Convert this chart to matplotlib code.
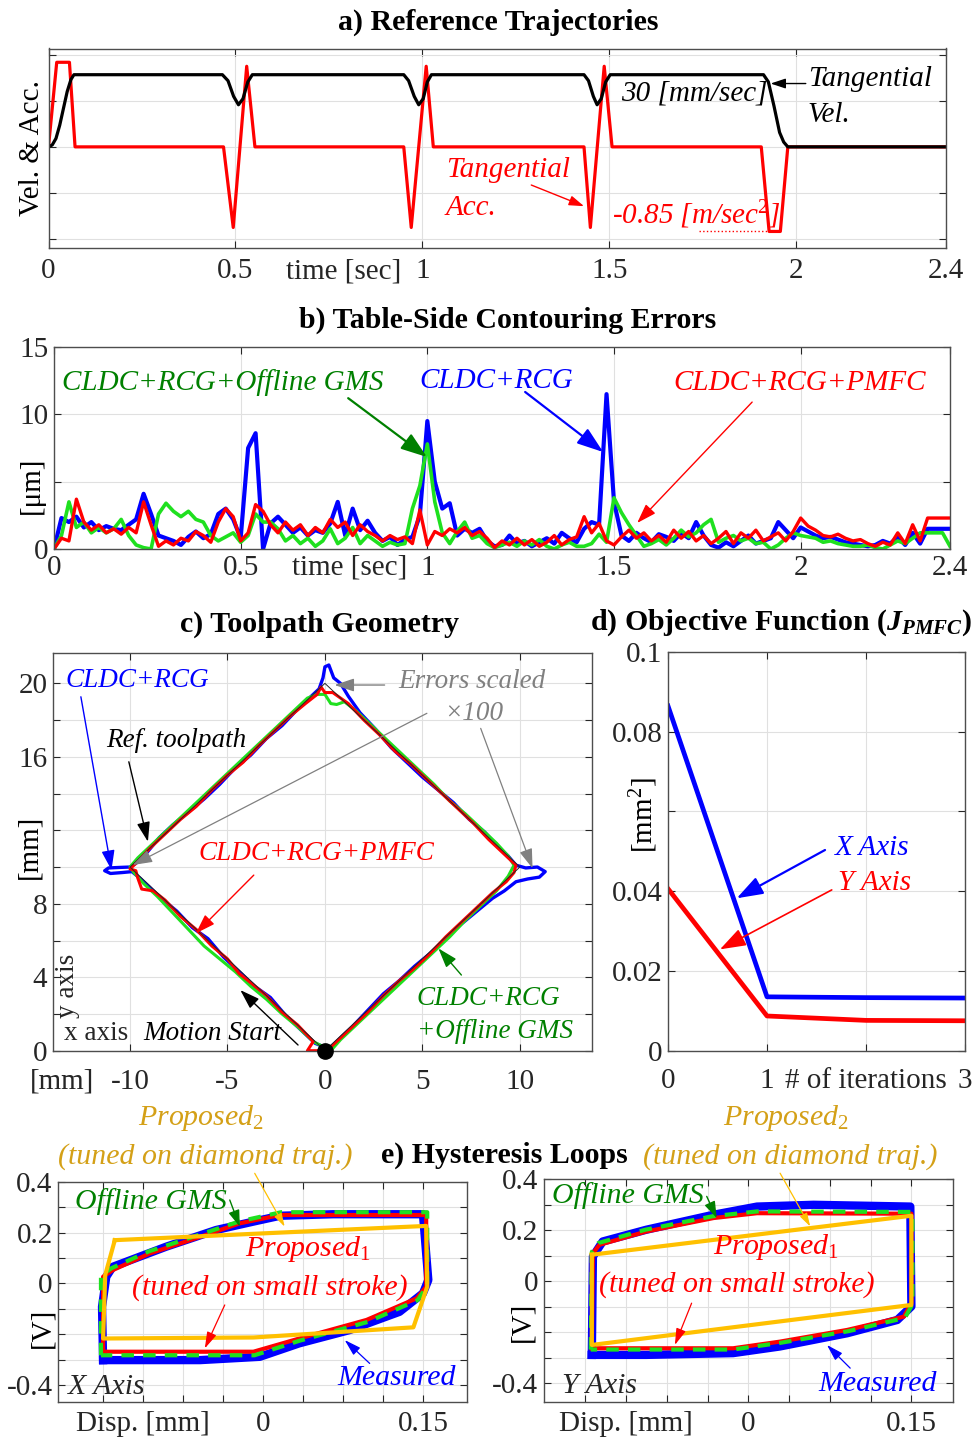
#!/usr/bin/env python
# Summary figure for the diamond contouring test: reference trajectories,
# table-side contouring errors, toolpath geometry, PMFC objective and hysteresis loops.

import numpy as np
import matplotlib
matplotlib.use('Agg')
from matplotlib import pyplot as plt
from matplotlib import rc

rc('font', family='Liberation Serif', size=21)
rc('mathtext', fontset='custom', rm='Liberation Serif', it='Liberation Serif:italic',
   bf='Liberation Serif:bold', bfit='Liberation Serif:italic:bold')

# ---------------- data ----------------
# a) reference trajectories (velocity in mm/s, acceleration in m/s^2)
t_vel = [0, 0.01, 0.02, 0.03, 0.04, 0.05, 0.06, 0.068,
         0.465, 0.48, 0.495, 0.508, 0.52, 0.533, 0.545,
         0.95, 0.963, 0.978, 0.99, 1.002, 1.013, 1.024,
         1.432, 1.444, 1.457, 1.467, 1.478, 1.49, 1.502,
         1.912, 1.925, 1.94, 1.955, 1.966, 1.977, 2.4]
vel = [0, 0.8, 3.5, 9, 16, 23, 28, 30,
       30, 27.5, 21, 17.5, 20, 27, 30,
       30, 27.5, 21, 17.5, 20, 27, 30,
       30, 27.5, 21, 17.5, 20, 27, 30,
       30, 27, 17, 6, 2, 0, 0]
t_acc = [0, 0.022, 0.056, 0.071, 0.468, 0.494, 0.530, 0.552,
         0.950, 0.970, 1.010, 1.029, 1.432, 1.449, 1.486, 1.507,
         1.906, 1.927, 1.957, 1.977, 2.4]
acc = [0, 0.85, 0.85, 0, 0, -0.81, 0.81, 0,
       0, -0.81, 0.81, 0, 0, -0.81, 0.81, 0,
       0, -0.85, -0.85, 0, 0]

# b) contouring errors [um], sampled every 20 ms
t_err = np.round(np.arange(121) * 0.02, 2)
err_rcg = [0, 2.3, 2.0, 2.4, 1.6, 2.0, 1.4, 1.7, 1.5, 1.4,
           1.8, 2.2, 4.1, 2.6, 1.0, 0.8, 0.6, 0.3, 0.9, 1.3,
           0.8, 1.1, 2.6, 3.0, 2.2, 0.8, 7.5, 8.6, 0.0, 1.9,
           2.4, 1.8, 1.2, 1.6, 1.0, 1.4, 1.2, 1.9, 3.5, 1.0,
           3.0, 1.4, 2.1, 1.2, 0.6, 0.9, 0.3, 0.7, 0.9, 2.5,
           9.5, 5.0, 3.0, 3.4, 1.0, 1.5, 1.2, 1.5, 0.6, 0.2,
           0.3, 1.0, 0.4, 0.6, 0.2, 0.5, 0.8, 0.4, 1.2, 0.8,
           0.5, 1.5, 2.0, 1.8, 11.5, 3.5, 1.0, 0.6, 1.2, 0.8,
           0.5, 1.1, 0.9, 0.6, 1.2, 0.8, 2.0, 1.0, 0.3, 0.1,
           0.5, 0.2, 0.6, 1.0, 0.4, 0.6, 0.8, 2.0, 1.4, 0.8,
           1.6, 1.3, 1.0, 0.8, 0.9, 0.7, 0.5, 0.4, 0.3, 0.2,
           0.3, 0.6, 0.4, 0.9, 0.3, 1.2, 0.4, 1.5, 1.5, 1.5,
           1.5]
err_gms = [0, 1.0, 3.5, 1.6, 2.0, 1.2, 1.6, 1.2, 1.5, 2.2,
           1.0, 0.3, 0.1, 0.0, 2.6, 3.4, 2.8, 2.4, 2.8, 2.2,
           2.0, 1.0, 0.6, 0.9, 1.2, 0.5, 1.0, 2.6, 2.0, 2.0,
           1.5, 0.6, 1.0, 0.4, 0.8, 0.2, 0.6, 1.5, 0.4, 0.8,
           1.6, 0.4, 1.0, 0.6, 0.2, 0.5, 0.3, 0.4, 3.0, 4.7,
           7.8, 3.5, 1.2, 0.4, 1.3, 2.0, 0.8, 1.0, 0.4, 0.1,
           0.3, 0.5, 0.2, 0.6, 0.3, 0.7, 0.2, 0.0, 0.3, 0.5,
           0.2, 0.2, 0.4, 1.1, 0.5, 3.8, 2.7, 1.8, 1.0, 0.2,
           0.4, 0.7, 0.3, 0.8, 1.4, 0.9, 1.2, 1.8, 2.2, 0.5,
           0.8, 1.0, 0.6, 0.8, 0.4, 0.5, 0.0, 0.3, 0.8, 1.2,
           1.0, 0.9, 0.8, 0.5, 0.6, 0.4, 0.3, 0.2, 0.2, 0.3,
           0.1, 0.0, 0.3, 0.6, 0.4, 0.8, 1.2, 1.2, 1.2, 1.2,
           0.2]
err_pmfc = [0, 0.8, 0.6, 3.7, 2.0, 1.4, 1.8, 1.2, 1.5, 1.1,
            1.6, 1.2, 3.5, 1.8, 0.2, 0.6, 0.3, 0.8, 0.6, 1.3,
            1.0, 0.5, 2.0, 3.0, 2.4, 0.6, 1.2, 3.3, 2.8, 1.8,
            1.2, 2.0, 1.4, 1.8, 1.0, 1.6, 1.2, 2.2, 1.6, 2.0,
            1.0, 1.8, 1.3, 1.0, 0.6, 1.0, 0.7, 0.9, 0.4, 2.9,
            0.3, 1.3, 1.0, 1.5, 1.2, 1.6, 1.0, 1.3, 0.8, 0.1,
            0.6, 0.3, 0.8, 0.3, 0.7, 0.2, 0.5, 1.0, 0.3, 0.7,
            0.9, 2.4, 1.2, 1.9, 0.6, 0.3, 0.9, 1.4, 0.8, 1.2,
            0.6, 1.0, 0.5, 1.4, 0.8, 1.3, 0.6, 1.0, 0.4, 0.8,
            1.3, 0.4, 1.2, 0.8, 1.4, 0.6, 0.9, 1.2, 0.6, 1.3,
            2.3, 1.7, 1.4, 1.0, 0.9, 1.1, 0.8, 0.6, 0.7, 0.4,
            0.2, 0.5, 0.3, 1.2, 0.4, 1.8, 0.6, 2.3, 2.3, 2.3,
            2.3]

# c) toolpath [mm], errors scaled x100
ref_x = [0, -10, 0, 10, 0]
ref_y = [0, 10, 20, 10, 0]
path_rcg_x = [0.2, -0.5, -1.2, -2.0, -2.8, -3.6, -4.4, -5.2, -6.0, -6.8, -7.6, -8.4, -9.0, -9.5, -9.9,
              -10.4, -11.0, -11.3, -11.1, -10.5, -10.0, -9.7,
              -9.2, -8.5, -7.8, -7.0, -6.2, -5.4, -4.6, -3.8, -3.0, -2.2, -1.4, -0.8, -0.3,
              -0.1, 0.0, 0.2, 0.45, 0.8, 1.2,
              1.8, 2.6, 3.4, 4.2, 5.0, 5.8, 6.6, 7.4, 8.2, 8.8, 9.4, 9.8,
              10.3, 10.9, 11.3, 11.0, 10.4, 9.8,
              9.2, 8.6, 7.8, 7.0, 6.2, 5.4, 4.6, 3.8, 3.0, 2.2, 1.4, 0.6, 0.1]
path_rcg_y = [0.1, 0.4, 1.1, 1.9, 2.9, 3.5, 4.3, 5.1, 6.1, 6.7, 7.6, 8.3, 8.9, 9.4, 9.75,
              9.7, 9.65, 9.8, 9.95, 9.98, 10.0, 10.2,
              10.7, 11.6, 12.3, 13.0, 13.7, 14.5, 15.4, 16.1, 17.0, 17.7, 18.6, 19.2, 19.7,
              20.3, 20.9, 21.0, 20.3, 20.0, 19.3,
              18.4, 17.5, 16.5, 15.7, 14.9, 14.2, 13.5, 12.6, 11.9, 11.2, 10.6, 10.1,
              9.95, 10.0, 9.75, 9.45, 9.35, 9.2,
              8.7, 8.3, 7.6, 6.9, 6.1, 5.3, 4.6, 3.8, 3.1, 2.2, 1.3, 0.5, 0.0]
path_gms_x = [0.3, -0.6, -1.4, -2.2, -3.0, -3.8, -4.6, -5.4, -6.2, -7.0, -7.8, -8.6, -9.3, -9.8, -10.0,
              -9.6, -8.8, -8.0, -7.2, -6.4, -5.6, -4.8, -4.0, -3.2, -2.4, -1.6, -0.9, -0.4,
              0.0, 0.3, 0.6, 1.0, 1.6, 2.4, 3.2, 4.0, 4.8, 5.6, 6.4, 7.2, 8.0, 8.8, 9.4, 9.7,
              9.4, 8.8, 8.0, 7.2, 6.4, 5.6, 4.8, 4.0, 3.2, 2.4, 1.6, 0.8, 0.3]
path_gms_y = [0.0, 0.5, 1.3, 2.0, 2.8, 3.5, 4.3, 5.0, 5.7, 6.6, 7.5, 8.4, 9.1, 9.7, 10.0,
              10.5, 11.3, 12.1, 12.9, 13.7, 14.5, 15.3, 16.1, 16.9, 17.7, 18.5, 19.2, 19.4,
              19.4, 18.9, 18.85, 19.0, 18.5, 17.7, 16.9, 16.1, 15.3, 14.5, 13.6, 12.9, 12.1, 11.3, 10.6, 10.1,
              9.5, 8.7, 7.9, 7.1, 6.2, 5.4, 4.6, 3.8, 3.0, 2.2, 1.4, 0.6, 0.0]
path_pmfc_x = [-0.2, -0.9, -0.6, -1.4, -2.2, -3.0, -3.8, -4.4, -5.0, -5.8, -6.6, -7.4, -8.2, -8.8, -9.4, -9.6,
               -9.7, -10.0, -9.6, -9.0, -8.2, -7.4, -6.6, -5.8, -5.0, -4.2, -3.4, -2.6, -1.8, -1.0, -0.4,
               -0.2, 0.0, 0.4, 1.2, 2.0, 2.8, 3.6, 4.4, 5.2, 6.0, 6.8, 7.6, 8.4, 9.0, 9.4, 9.8,
               9.7, 9.3, 8.6, 7.8, 7.0, 6.2, 5.4, 4.6, 3.8, 3.0, 2.2, 1.4, 0.6, 0.1, -0.2]
path_pmfc_y = [0.0, 0.0, 0.5, 1.4, 2.1, 3.0, 3.7, 4.2, 5.0, 5.7, 6.6, 7.3, 8.2, 8.7, 8.8, 9.4,
               9.8, 9.9, 10.3, 11.0, 11.8, 12.6, 13.3, 14.2, 15.0, 15.7, 16.6, 17.4, 18.2, 18.9, 19.4,
               19.8, 19.5, 19.5, 18.9, 18.0, 17.2, 16.3, 15.6, 14.8, 14.0, 13.2, 12.4, 11.5, 10.9, 10.5, 10.1,
               9.7, 9.2, 8.6, 7.8, 7.0, 6.2, 5.3, 4.5, 3.8, 3.0, 2.1, 1.3, 0.5, 0.0, 0.0]

# d) PMFC objective function [mm^2]
iterations = [0, 1, 2, 3]
J_x = [0.0864, 0.0135, 0.0133, 0.0132]
J_y = [0.0406, 0.0087, 0.0076, 0.0075]

# e) hysteresis loops, displacement [mm] vs. voltage [V]
hx_meas_d = [-0.150, -0.151, -0.147, -0.141, -0.091, -0.044, -0.009, 0.016, 0.066, 0.150,
             0.155, 0.150, 0.128, 0.081, 0.034, -0.003, -0.059, -0.150]
hx_meas_v = [-0.302, -0.092, 0.026, 0.065, 0.144, 0.210, 0.243, 0.266, 0.272, 0.272,
             0.013, -0.039, -0.112, -0.184, -0.236, -0.289, -0.302, -0.302]
hx_p1_d = [-0.150, -0.150, -0.141, -0.106, -0.059, -0.022, 0.016, 0.153, 0.153, 0.144,
           0.097, 0.034, -0.009, -0.150]
hx_p1_v = [-0.269, 0.026, 0.052, 0.118, 0.183, 0.236, 0.269, 0.269, -0.013, -0.059,
           -0.144, -0.217, -0.269, -0.269]
hx_gms_d = [-0.152, -0.152, -0.142, -0.107, -0.060, -0.022, 0.017, 0.154, 0.154, 0.145,
            0.098, 0.034, -0.008, -0.152]
hx_gms_v = [-0.283, 0.030, 0.060, 0.126, 0.191, 0.244, 0.280, 0.280, -0.010, -0.066,
            -0.152, -0.226, -0.283, -0.283]
hx_p2_d = [-0.139, 0.153, 0.154, 0.141, -0.009, -0.150, -0.148, -0.139]
hx_p2_v = [0.170, 0.226, -0.013, -0.173, -0.213, -0.217, 0.033, 0.170]

hy_meas_d = [-0.144, -0.143, -0.134, -0.094, -0.032, 0.008, 0.060, 0.149, 0.150, 0.137,
             0.091, 0.029, -0.014, -0.094, -0.144]
hy_meas_v = [-0.289, 0.097, 0.156, 0.202, 0.261, 0.293, 0.300, 0.293, -0.099, -0.152,
             -0.204, -0.256, -0.282, -0.289, -0.289]
hy_p1_d = [-0.144, -0.143, -0.137, -0.094, -0.032, 0.008, 0.150, 0.150, 0.143, 0.091,
           0.029, -0.014, -0.144]
hy_p1_v = [-0.263, 0.110, 0.143, 0.195, 0.248, 0.267, 0.265, -0.086, -0.139, -0.191,
           -0.237, -0.263, -0.263]
hy_gms_d = [-0.145, -0.144, -0.138, -0.095, -0.033, 0.008, 0.151, 0.151, 0.144, 0.092,
            0.029, -0.014, -0.145]
hy_gms_v = [-0.268, 0.115, 0.150, 0.202, 0.255, 0.274, 0.272, -0.090, -0.144, -0.196,
            -0.242, -0.268, -0.268]
hy_p2_d = [-0.144, 0.150, 0.150, -0.144, -0.144]
hy_p2_v = [0.104, 0.257, -0.093, -0.250, 0.104]

# ---------------- styling helpers ----------------
LIME = (0.12, 0.88, 0.12)
DKGREEN = (0.0, 0.5, 0.0)
GOLD_TXT = '#D4A017'
GOLD = '#FFC000'
W, H = 974.0, 1439.0

fig = plt.figure(figsize=(W / 100, H / 100), dpi=100)


def box(left, top, right, bottom, xpad=4):
    ax = fig.add_axes([left / W, 1 - bottom / H, (right - left) / W, (bottom - top) / H])
    ax.tick_params(direction='in', top=True, right=True, length=5, width=0.8,
                   colors='0.15', labelsize=21, pad=4)
    ax.tick_params(axis='x', pad=xpad)
    for s in ax.spines.values():
        s.set_color('0.3')
        s.set_linewidth(1.0)
    ax.grid(True, color='0.88', lw=0.8)
    ax.set_axisbelow(True)
    return ax


def heading(x, y, s):
    fig.text(x / W, 1 - y / H, s, ha='center', va='center', fontsize=21.5, fontweight='bold')


def arrow(ax, tail, head, color, lw=1.0, hl=0.5, hw=0.17):
    ax.annotate('', xy=head, xytext=tail,
                arrowprops=dict(arrowstyle='-|>,head_length=%g,head_width=%g' % (hl, hw),
                                color=color, lw=lw, shrinkA=0, shrinkB=0, mutation_scale=20))


def note(ax, x, y, s, color='k', size=21, **kw):
    ax.text(x, y, s, color=color, fontsize=size, style='italic', ha='left', va='center', **kw)


def under_axis(ax, x, s, pad=4):
    ax.annotate(s, xy=(x, 0), xycoords=('data', 'axes fraction'), xytext=(0, -pad),
                textcoords='offset points', ha='center', va='top', fontsize=21, color='0.15')


# ---------------- a) reference trajectories ----------------
VEL_SCALE = 1.57 / 30.0
ACC_SCALE = 1.84 / 0.85
heading(498, 22, 'a) Reference Trajectories')
ax = box(48.5, 48.5, 946, 248, xpad=7.5)
ax.plot(t_acc, np.array(acc) * ACC_SCALE, color='r', lw=2.3)
ax.plot(t_vel, np.array(vel) * VEL_SCALE, color='k', lw=2.3)
ax.plot([1.74, 1.93], [min(acc) * ACC_SCALE] * 2, color='r', lw=1, ls=':')
ax.set_xlim(0, 2.4)
ax.set_ylim(-2.2, 2.14)
ax.set_xticks([0, 0.5, 1, 1.5, 2, 2.4])
ax.set_xticklabels(['0', '0.5', '1', '1.5', '2', '2.4'])
ax.set_yticks([-2, -1, 0, 1, 2])
ax.set_yticklabels([])
ax.set_ylabel('Vel. & Acc.', fontsize=21)
ax.yaxis.set_label_coords(-0.004, 0.5)
under_axis(ax, 0.79, 'time [sec]', pad=7.5)
note(ax, 1.53, 1.165, '30 [mm/sec]')
note(ax, 2.03, 1.485, 'Tangential')
note(ax, 2.03, 0.70, 'Vel.')
arrow(ax, (2.025, 1.378), (1.931, 1.378), 'k', lw=1.0, hl=0.45, hw=0.15)
note(ax, 1.063, -0.51, 'Tangential', color='r')
note(ax, 1.063, -1.33, 'Acc.', color='r')
arrow(ax, (1.291, -0.83), (1.432, -1.29), 'r', lw=1.0, hl=0.45, hw=0.15)
note(ax, 1.507, -1.47, r'-0.85 [m/sec$^{\mathit{2}}$]', color='r')

# ---------------- b) contouring errors ----------------
heading(508, 320, 'b) Table-Side Contouring Errors')
ax = box(54, 347, 950, 549)
ax.plot(t_err, err_rcg, color='b', lw=3.0)
ax.plot(t_err, err_gms, color=LIME, lw=2.6)
ax.plot(t_err, err_pmfc, color='r', lw=2.4)
ax.set_xlim(0, 2.4)
ax.set_ylim(0, 15)
ax.set_xticks([0, 0.5, 1, 1.5, 2, 2.4])
ax.set_xticklabels(['0', '0.5', '1', '1.5', '2', '2.4'])
ax.set_yticks([0, 5, 10, 15])
ax.set_yticklabels(['0', '', '10', '15'])
ax.set_ylabel('[\u03bcm]', fontsize=21)
ax.yaxis.set_label_coords(-0.01, 0.317)
under_axis(ax, 0.793, 'time [sec]')
note(ax, 0.021, 12.4, 'CLDC+RCG+Offline GMS', color=DKGREEN)
note(ax, 0.98, 12.47, 'CLDC+RCG', color='b')
note(ax, 1.658, 12.3, 'CLDC+RCG+PMFC', color='r')
arrow(ax, (0.788, 11.2), (0.999, 6.83), DKGREEN, lw=1.6, hl=0.8, hw=0.28)
arrow(ax, (1.262, 11.66), (1.471, 7.2), 'b', lw=1.6, hl=0.8, hw=0.28)
arrow(ax, (1.87, 10.91), (1.562, 1.93), 'r', lw=1.0, hl=0.6, hw=0.2)

# ---------------- c) toolpath geometry ----------------
heading(320, 624, 'c) Toolpath Geometry')
ax = box(53, 652.7, 592, 1050.7, xpad=13)
ax.plot(path_rcg_x, path_rcg_y, color='b', lw=2.4)
ax.plot(path_gms_x, path_gms_y, color=LIME, lw=2.2)
ax.plot(path_pmfc_x, path_pmfc_y, color='r', lw=2.2)
ax.plot(ref_x, ref_y, color='0.15', lw=0.7)
ax.plot(ref_x[0], ref_y[0], 'o', color='k', ms=11, clip_on=False, zorder=6)
ax.set_xlim(-13.95, 13.7)
ax.set_ylim(0, 21.67)
ax.set_xticks([-10, -5, 0, 5, 10])
ax.set_xticklabels(['-10', '-5', '0', '5', '10'])
c_yticks = list(range(0, 22, 2))
ax.set_yticks(c_yticks)
ax.set_yticklabels([str(v) if v in (0, 4, 8, 16, 20) else '' for v in c_yticks])
ax.set_ylabel('[mm]', fontsize=21)
ax.yaxis.set_label_coords(-0.019, 0.512)
under_axis(ax, -13.5, '[mm]', pad=13)
cs = 19.5
note(ax, -13.33, 20.13, 'CLDC+RCG', color='b', size=cs)
arrow(ax, (-12.52, 19.27), (-10.95, 9.84), 'b', lw=1.0, hl=0.6, hw=0.2)
note(ax, -11.24, 16.91, 'Ref. toolpath', size=cs)
arrow(ax, (-10.06, 15.73), (-9.08, 11.38), 'k', lw=1.0, hl=0.6, hw=0.2)
note(ax, 3.74, 20.09, 'Errors scaled', color='0.5', size=cs)
note(ax, 6.1, 18.38, '\u00d7100', color='0.5', size=cs)
arrow(ax, (3.06, 19.91), (0.49, 19.91), '0.5', lw=1.0, hl=0.6, hw=0.2)
arrow(ax, (5.23, 18.37), (-9.86, 10.11), '0.5', lw=0.9, hl=0.6, hw=0.2)
arrow(ax, (7.99, 17.55), (10.65, 9.93), '0.5', lw=0.9, hl=0.6, hw=0.2)
note(ax, -6.51, 10.71, 'CLDC+RCG+PMFC', color='r', size=cs)
arrow(ax, (-3.65, 9.56), (-6.62, 6.39), 'r', lw=1.0, hl=0.6, hw=0.2)
note(ax, 4.72, 2.85, 'CLDC+RCG', color=DKGREEN, size=cs)
note(ax, 4.72, 1.03, '+Offline GMS', color=DKGREEN, size=cs)
arrow(ax, (7.0, 4.12), (5.82, 5.57), DKGREEN, lw=1.0, hl=0.6, hw=0.2)
ax.text(-13.23, 3.52, 'y axis', rotation=90, ha='center', va='center', fontsize=cs, color='0.15')
ax.text(-13.41, 0.96, 'x axis', ha='left', va='center', fontsize=cs, color='0.15')
note(ax, -9.33, 0.96, 'Motion Start', size=cs)
arrow(ax, (-1.38, 0.31), (-4.34, 3.3), 'k', lw=1.0, hl=0.6, hw=0.2)

# ---------------- d) objective function ----------------
heading(781, 623, r'd) Objective Function ($\mathbfit{J}_{\mathbfit{PMFC}}$)')
ax = box(668, 651.7, 965, 1050.7, xpad=12.5)
ax.plot(iterations, J_x, color='b', lw=3.4)
ax.plot(iterations, J_y, color='r', lw=3.4)
ax.set_xlim(0, 3)
ax.set_ylim(0, 0.1)
ax.set_xticks(iterations)
ax.set_xticklabels(['0', '1', '# of iterations', '3'])
ax.set_yticks([0, 0.02, 0.04, 0.06, 0.08, 0.1])
ax.set_yticklabels(['0', '0.02', '0.04', '', '0.08', '0.1'])
ax.set_ylabel(r'[mm$^{\mathrm{2}}$]', fontsize=21)
ax.yaxis.set_label_coords(-0.027, 0.59)
note(ax, 1.687, 0.0507, 'X Axis', color='b')
note(ax, 1.717, 0.0421, 'Y Axis', color='r')
arrow(ax, (1.586, 0.0503), (0.694, 0.0382), 'b', lw=1.6, hl=0.8, hw=0.28)
arrow(ax, (1.654, 0.0403), (0.525, 0.0254), 'r', lw=1.2, hl=0.8, hw=0.28)

# ---------------- e) hysteresis loops ----------------
heading(504, 1155, 'e) Hysteresis Loops')
e_xticks = np.linspace(-0.15, 0.15, 9)
e_xlabels = ['', 'Disp. [mm]', '', '', '0', '', '', '', '0.15']
e_yticks = np.round(np.arange(-0.4, 0.41, 0.1), 2)
e_ylabels = {-0.4: '-0.4', 0.0: '0', 0.2: '0.2', 0.4: '0.4'}

loops = [
    dict(frame=(58.3, 1181.7, 466.7, 1402.3), xlim=(-0.192, 0.191), ylim=(-0.468, 0.4),
         meas=(hx_meas_d, hx_meas_v), p1=(hx_p1_d, hx_p1_v), gms=(hx_gms_d, hx_gms_v),
         p2=(hx_p2_d, hx_p2_v), axis_name='X Axis', title_x=(201, 205), lab=(-0.008, 0.337),
         gms_txt=(-0.1765, 0.321), gms_arr=((-0.0312, 0.328), (-0.0218, 0.223)),
         p2_arr=((-0.0078, 0.433), (0.0203, 0.223)),
         p1_txt=((-0.0172, 0.134), (-0.1233, -0.016)), p1_arr=((-0.0359, -0.085), (-0.0546, -0.256)),
         meas_txt=(0.070, -0.374), meas_arr=((0.100, -0.315), (0.0766, -0.223)),
         name_txt=(-0.183, -0.407)),
    dict(frame=(544, 1179.3, 952.7, 1402.3), xlim=(-0.188, 0.188), ylim=(-0.475, 0.4),
         meas=(hy_meas_d, hy_meas_v), p1=(hy_p1_d, hy_p1_v), gms=(hy_gms_d, hy_gms_v),
         p2=(hy_p2_d, hy_p2_v), axis_name='Y Axis', title_x=(786, 790), lab=(-0.022, 0.36),
         gms_txt=(-0.181, 0.335), gms_arr=((-0.0383, 0.333), (-0.0291, 0.248)),
         p2_arr=((0.0292, 0.424), (0.0569, 0.215)),
         p1_txt=((-0.0328, 0.136), (-0.1376, -0.014)), p1_arr=((-0.0522, -0.086), (-0.0676, -0.25)),
         meas_txt=(0.0642, -0.403), meas_arr=((0.0937, -0.341), (0.0723, -0.25)),
         name_txt=(-0.171, -0.413)),
]

for lp in loops:
    ax = box(*lp['frame'], xpad=6.5)
    ax.plot(*lp['meas'], color='b', lw=6.0, solid_joinstyle='round')
    ax.plot(*lp['p1'], color='r', lw=3.0)
    ax.plot(*lp['gms'], color=LIME, lw=3.0, dashes=(3, 2.2))
    ax.plot(*lp['p2'], color=GOLD, lw=3.0)
    ax.set_xlim(*lp['xlim'])
    ax.set_ylim(*lp['ylim'])
    ax.set_xticks(e_xticks)
    ax.set_xticklabels(e_xlabels)
    ax.set_yticks(e_yticks)
    ax.set_yticklabels([e_ylabels.get(v, '') for v in e_yticks])
    ax.set_ylabel('[V]', fontsize=21)
    ax.yaxis.set_label_coords(*lp['lab'])
    tx1, tx2 = lp['title_x']
    fig.text(tx1 / W, 1 - 1118 / H, r'Proposed$_{\mathit{2}}$', color=GOLD_TXT, fontsize=21.5,
             style='italic', ha='center', va='center')
    fig.text(tx2 / W, 1 - 1157 / H, '(tuned on diamond traj.)', color=GOLD_TXT, fontsize=21.5,
             style='italic', ha='center', va='center')
    note(ax, *lp['gms_txt'], 'Offline GMS', color=DKGREEN, size=21.5)
    arrow(ax, *lp['gms_arr'], DKGREEN, lw=1.0, hl=0.5, hw=0.17)
    arrow(ax, *lp['p2_arr'], GOLD, lw=0.9, hl=0.4, hw=0.12)
    (x1, y1), (x2, y2) = lp['p1_txt']
    note(ax, x1, y1, r'Proposed$_{\mathit{1}}$', color='r', size=21.5)
    note(ax, x2, y2, '(tuned on small stroke)', color='r', size=21.5)
    arrow(ax, *lp['p1_arr'], 'r', lw=0.9, hl=0.5, hw=0.15)
    note(ax, *lp['meas_txt'], 'Measured', color='b', size=21.5)
    arrow(ax, *lp['meas_arr'], 'b', lw=0.9, hl=0.5, hw=0.15)
    note(ax, *lp['name_txt'], lp['axis_name'], color='0.15', size=21.5)

fig.savefig('out.png', dpi=100)
